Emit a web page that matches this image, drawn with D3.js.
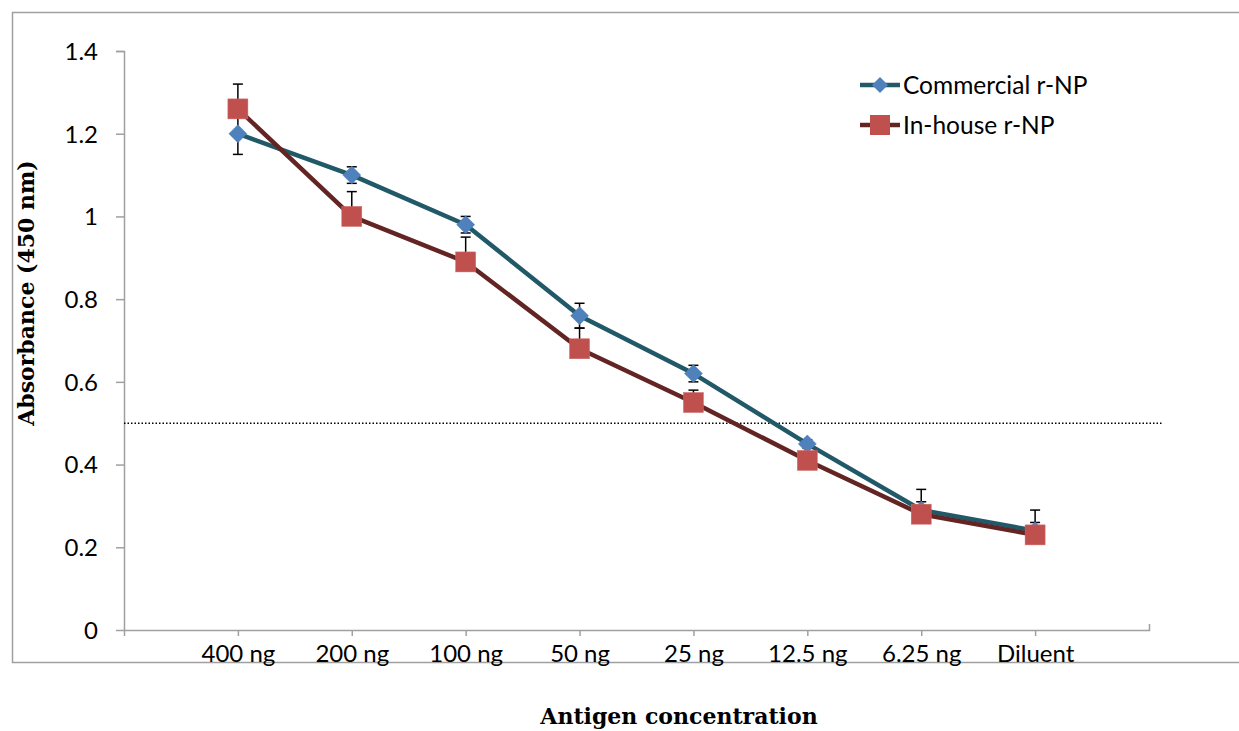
<!DOCTYPE html>
<html><head><meta charset="utf-8">
<script src="https://cdn.jsdelivr.net/npm/d3@7"></script>
<style>body{margin:0;background:#fff}svg{display:block}</style>
</head><body>
<svg id="c" width="1239" height="731"></svg>
<script>
const categories = ["400 ng","200 ng","100 ng","50 ng","25 ng","12.5 ng","6.25 ng","Diluent"];
const commercial = [1.20,1.10,0.98,0.76,0.62,0.45,0.29,0.24];
const commercialErr = [0.05,0.02,0.02,0.03,0.02,0.01,0.02,0.02];
const inhouse = [1.26,1.00,0.89,0.68,0.55,0.41,0.28,0.23];
const inhouseErr = [0.06,0.06,0.06,0.05,0.03,0.02,0.06,0.06];
const yTicks = [0,0.2,0.4,0.6,0.8,1,1.2,1.4];
const cutoff = 0.5;
const seriesNames = ["Commercial r-NP","In-house r-NP"];

const svg = d3.select("#c");
const font = "Lato, 'Open Sans', sans-serif";
const x = d3.scalePoint().domain(categories).range([124,1149]).padding(1);
const y = d3.scaleLinear().domain([0,1.4]).range([630,51]);

// outer border
svg.append("path").attr("d","M1245,12.5 H12.5 V662.5 H1245").attr("fill","none").attr("stroke","#a0a0a0").attr("stroke-width",1.5);

// y axis
const ya = svg.append("g").attr("transform","translate(124,0)")
  .call(d3.axisLeft(y).tickValues(yTicks).tickSize(8).tickPadding(18).tickFormat(d=>String(+d.toFixed(1))));
ya.select(".domain").attr("stroke","#a0a0a0").attr("stroke-width",1.5).attr("d","M-8,51.5H0.5V630.5");
ya.selectAll(".tick line").attr("stroke","#a0a0a0").attr("stroke-width",1.5);
ya.selectAll(".tick text").attr("font-family",font).attr("font-size",24).attr("fill","#000").attr("dy","0.35em");

// x axis
const xa = svg.append("g").attr("transform","translate(0,630)")
  .call(d3.axisBottom(x).tickSize(6).tickPadding(9));
xa.select(".domain").attr("stroke","#a0a0a0").attr("stroke-width",1.5).attr("d","M124.5,6V0.5H1149.5V-6");
xa.selectAll(".tick line").attr("stroke","#a0a0a0").attr("stroke-width",1.5);
xa.selectAll(".tick text").attr("font-family",font).attr("font-size",24).attr("fill","#000");

// cutoff line
svg.append("line").attr("x1",124).attr("x2",1163).attr("y1",y(cutoff)).attr("y2",y(cutoff))
  .attr("stroke","#000").attr("stroke-width",1.5).attr("stroke-dasharray","1.5,2");

const series = [
  {vals:commercial, err:commercialErr, line:"#215968", fill:"#4f81bd", shape:"diamond", both:true},
  {vals:inhouse, err:inhouseErr, line:"#632523", fill:"#c0504d", shape:"square", both:false}
];
const lineGen = d3.line().x((d,i)=>x(categories[i])).y(d=>y(d));
series.forEach(s=>{
  svg.append("path").attr("d",lineGen(s.vals)).attr("fill","none").attr("stroke",s.line).attr("stroke-width",4.5).attr("stroke-linejoin","round");
});
series.forEach(s=>{
  const g = svg.append("g");
  s.vals.forEach((v,i)=>{
    const cx = x(categories[i]);
    const e = s.err[i];
    const lo = s.both ? v-e : v;
    g.append("line").attr("x1",cx).attr("x2",cx).attr("y1",y(v+e)).attr("y2",y(lo)).attr("stroke","#000").attr("stroke-width",1.5);
    (s.both?[v+e,v-e]:[v+e]).forEach(t=>g.append("line").attr("x1",cx-5).attr("x2",cx+5).attr("y1",y(t)).attr("y2",y(t)).attr("stroke","#000").attr("stroke-width",1.5));
  });
});
series.forEach(s=>{
  s.vals.forEach((v,i)=>{
    const cx = x(categories[i]), cy = y(v);
    if(s.shape==="diamond"){
      svg.append("path").attr("d",`M${cx},${cy-9}L${cx+9},${cy}L${cx},${cy+9}L${cx-9},${cy}Z`).attr("fill",s.fill).attr("stroke","#4a7ebb").attr("stroke-width",0.5);
    } else {
      svg.append("rect").attr("x",cx-10).attr("y",cy-10).attr("width",20).attr("height",20).attr("fill",s.fill).attr("stroke","#d06a67").attr("stroke-width",0.5);
    }
  });
});

// legend
const lg = svg.append("g");
series.forEach((s,i)=>{
  const ly = 85 + i*40;
  lg.append("line").attr("x1",860).attr("x2",900).attr("y1",ly).attr("y2",ly).attr("stroke",s.line).attr("stroke-width",4.5);
  if(s.shape==="diamond"){
    lg.append("path").attr("d",`M880,${ly-8}L888,${ly}L880,${ly+8}L872,${ly}Z`).attr("fill",s.fill);
  } else {
    lg.append("rect").attr("x",870).attr("y",ly-10).attr("width",20).attr("height",20).attr("fill",s.fill);
  }
  lg.append("text").attr("x",903).attr("y",ly).attr("dy","0.35em").attr("font-family",font).attr("font-size",24.5).text(seriesNames[i]);
});

// axis titles
svg.append("text").attr("transform","translate(34,293) rotate(-90)").attr("text-anchor","middle")
  .attr("font-family","'DejaVu Serif', serif").attr("font-weight","bold").attr("font-size",22).text("Absorbance (450 nm)");
svg.append("text").attr("x",679).attr("y",724).attr("text-anchor","middle")
  .attr("font-family","'DejaVu Serif', serif").attr("font-weight","bold").attr("font-size",22).text("Antigen concentration");
</script>
</body></html>
